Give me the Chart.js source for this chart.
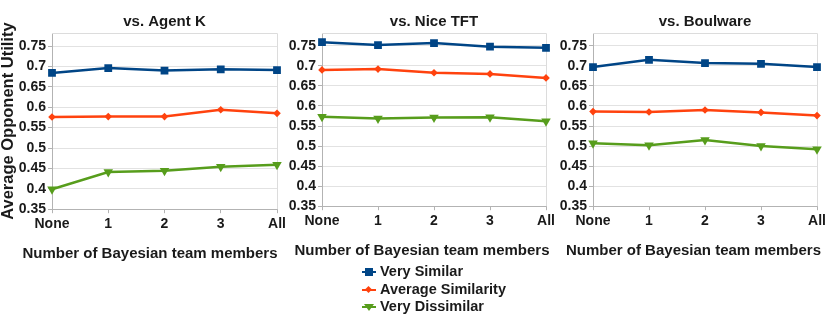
<!DOCTYPE html>
<html>
<head>
<meta charset="utf-8">
<script src="https://cdn.jsdelivr.net/npm/chart.js@4"></script>
<style>
  body { margin: 0; background: #fff; font-family: 'Liberation Sans', Arial, sans-serif; }
  #wrap { position: relative; width: 830px; height: 316px; overflow: hidden; }
  canvas { position: absolute; top: 0; }
  #legend { position: absolute; left: 361px; top: 263px; font-weight: bold; font-size: 14.5px; color: #1a1a1a; }
  .item { position: relative; height: 17.5px; line-height: 17.5px; padding-left: 19px; white-space: nowrap; }
  .line { position: absolute; left: 1px; top: 8px; width: 14px; height: 2px; }
  .mk { position: absolute; }
</style>
</head>
<body>
<div id="wrap">
  <canvas id="g1" width="290" height="266" style="left:0px"></canvas>
  <canvas id="g2" width="279" height="263" style="left:280px"></canvas>
  <canvas id="g3" width="279" height="263" style="left:551px"></canvas>
  <div id="legend"></div>
</div>
<script>
var categorias = ['None', '1', '2', '3', 'All'];
var series = ['Very Similar', 'Average Similarity', 'Very Dissimilar'];
var colores = ['#004586', '#ff420e', '#579d1c'];
var yTicks = [0.35, 0.4, 0.45, 0.5, 0.55, 0.6, 0.65, 0.7, 0.75];

// vs. Agent K
var agentK_similar = [0.684, 0.696, 0.690, 0.693, 0.691];
var agentK_average = [0.576, 0.577, 0.577, 0.594, 0.585];
var agentK_dissimilar = [0.399, 0.441, 0.444, 0.454, 0.459];
// vs. Nice TFT
var niceTFT_similar = [0.759, 0.752, 0.757, 0.748, 0.745];
var niceTFT_average = [0.690, 0.692, 0.683, 0.680, 0.670];
var niceTFT_dissimilar = [0.573, 0.569, 0.571, 0.572, 0.562];
// vs. Boulware
var boulware_similar = [0.697, 0.715, 0.707, 0.705, 0.697];
var boulware_average = [0.586, 0.585, 0.590, 0.584, 0.576];
var boulware_dissimilar = [0.507, 0.502, 0.515, 0.500, 0.492];

var fuente = "'Liberation Sans', Arial, sans-serif";
var texto = '#1a1a1a';

// borde superior y derecho del area + rotulo del eje x
var marco = {
  id: 'marco',
  beforeDatasetsDraw: function (chart) {
    var a = chart.chartArea, ctx = chart.ctx;
    ctx.save();
    ctx.strokeStyle = '#dcdcdc';
    ctx.lineWidth = 1;
    ctx.beginPath();
    ctx.moveTo(a.left, a.top + 0.5);
    ctx.lineTo(a.right + 0.5, a.top + 0.5);
    ctx.lineTo(a.right + 0.5, a.bottom);
    ctx.stroke();
    ctx.restore();
  },
  afterDraw: function (chart, args, opts) {
    var ctx = chart.ctx;
    ctx.save();
    ctx.fillStyle = texto;
    ctx.font = 'bold 15px ' + fuente;
    ctx.textAlign = 'center';
    ctx.textBaseline = 'middle';
    ctx.fillText(opts.text, chart.width / 2 + opts.dx, chart.height - 12);
    ctx.restore();
  }
};

function crear_panel(canva, titulo, datos, anchoY, tituloY, dx) {
  var estilos = [
    { pointStyle: 'rect', pointRadius: 5.5, rotation: 0 },
    { pointStyle: 'rectRot', pointRadius: 3.8, rotation: 0 },
    { pointStyle: 'triangle', pointRadius: 5.5, rotation: 180 }
  ];
  var ds = [];
  for (let i = 0; i < series.length; i++) {
    ds.push({
      label: series[i],
      data: datos[i],
      borderColor: colores[i],
      backgroundColor: colores[i],
      borderWidth: 2.5,
      pointStyle: estilos[i].pointStyle,
      pointRadius: estilos[i].pointRadius,
      pointRotation: estilos[i].rotation,
      pointBorderWidth: 0,
      tension: 0
    });
  }
  let ctx = document.getElementById(canva).getContext('2d');
  return new Chart(ctx, {
    type: 'line',
    data: { labels: categorias, datasets: ds },
    plugins: [marco],
    options: {
      responsive: false,
      animation: false,
      layout: { padding: { right: 13, bottom: 30 } },
      plugins: {
        legend: { display: false },
        tooltip: { enabled: false },
        marco: { text: 'Number of Bayesian team members', dx: dx },
        title: {
          display: true, text: titulo, fullSize: false, color: texto,
          font: { family: fuente, size: 15, weight: 'bold', lineHeight: 1.2 },
          padding: { top: 13, bottom: 2 }
        }
      },
      scales: {
        x: {
          offset: false,
          grid: { drawOnChartArea: false, color: '#b3b3b3', tickLength: 4 },
          border: { color: '#b3b3b3' },
          ticks: { color: texto, padding: 3, maxRotation: 0, font: { family: fuente, size: 14, weight: 'bold' } }
        },
        y: {
          min: 0.35, max: 0.782,
          afterBuildTicks: function (scale) {
            scale.ticks = yTicks.map(function (v) { return { value: v }; });
          },
          afterFit: function (scale) { scale.width = anchoY; },
          grid: { color: '#e2e2e2', tickColor: '#b3b3b3', tickLength: 4 },
          border: { color: '#b3b3b3' },
          ticks: {
            color: texto, padding: 2,
            font: { family: fuente, size: 14, weight: 'bold' },
            callback: function (v) { return String(+Number(v).toFixed(2)); }
          },
          title: {
            display: tituloY, text: 'Average Opponent Utility', color: texto,
            font: { family: fuente, size: 16.5, weight: 'bold', lineHeight: 1.0 },
            padding: { top: 0, bottom: 0 }
          }
        }
      }
    }
  });
}

crear_panel('g1', 'vs. Agent K', [agentK_similar, agentK_average, agentK_dissimilar], 52, true, 5);
crear_panel('g2', 'vs. Nice TFT', [niceTFT_similar, niceTFT_average, niceTFT_dissimilar], 42, false, 2.5);
crear_panel('g3', 'vs. Boulware', [boulware_similar, boulware_average, boulware_dissimilar], 42, false, 3);

// leyenda compartida
var leyenda = document.getElementById('legend');
for (let i = 0; i < series.length; i++) {
  var item = document.createElement('div');
  item.className = 'item';
  var mk = '';
  if (i == 0) mk = '<span class="mk" style="left:4px;top:5px;width:8px;height:8px;background:' + colores[i] + '"></span>';
  if (i == 1) mk = '<span class="mk" style="left:5px;top:6px;width:5px;height:5px;transform:rotate(45deg);background:' + colores[i] + '"></span>';
  if (i == 2) mk = '<span class="mk" style="left:3px;top:6px;width:0;height:0;border-left:5px solid transparent;border-right:5px solid transparent;border-top:7px solid ' + colores[i] + '"></span>';
  item.innerHTML = '<span class="line" style="background:' + colores[i] + '"></span>' + mk + series[i];
  leyenda.appendChild(item);
}
</script>
</body>
</html>
